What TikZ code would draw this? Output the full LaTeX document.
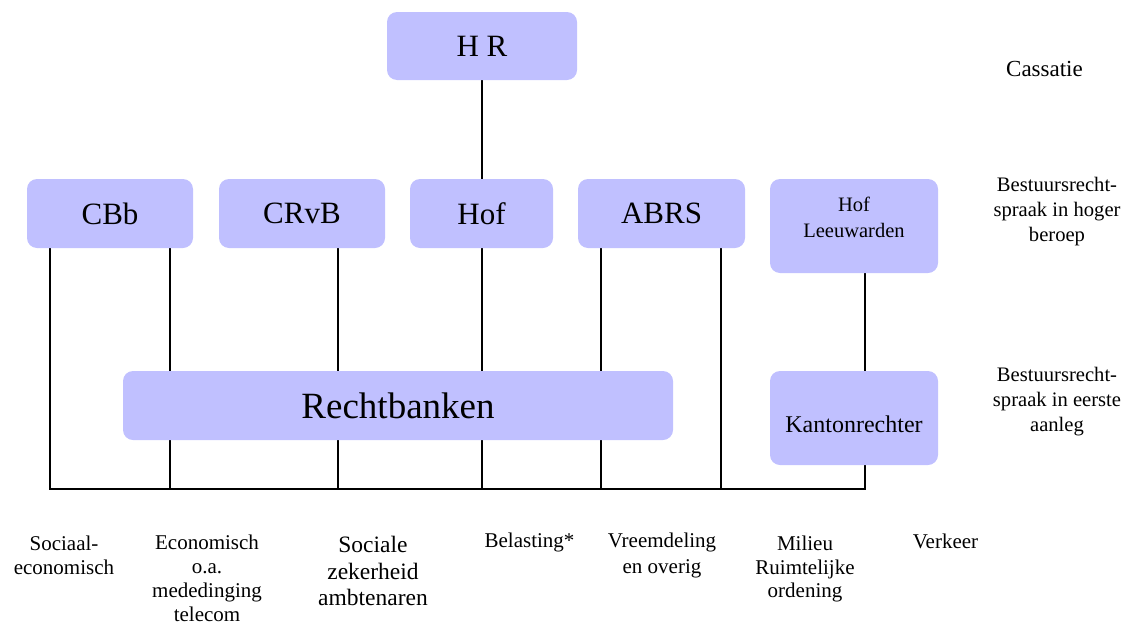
\documentclass[tikz,border=0pt]{standalone}
\usepackage{fontspec}
\setmainfont{Liberation Serif}
\newfontfamily\tnr{Liberation Serif}
\newcommand{\fsz}[2]{\tnr\fontsize{#1}{#2}\selectfont}
\usetikzlibrary{backgrounds}
\definecolor{boxfill}{RGB}{192,192,255}
\begin{document}
\begin{tikzpicture}[x=1pt,y=-1pt,
  box/.style={fill=boxfill, rounded corners=10pt, inner sep=0pt, align=center},
  conn/.style={draw=black, line width=1.3pt},
  lbl/.style={align=center, inner sep=0pt, font=\fsz{21}{24.5}},
  side/.style={align=center, inner sep=0pt, font=\fsz{20.6}{25}},
  big/.style={font=\fsz{31}{34}}]
\useasboundingbox (0,0) rectangle (1129,624);
% boxes
\node[box, big, minimum width=190pt, minimum height=68pt] (hr) at (482,46) {H R};
\node[box, big, minimum width=166pt, minimum height=69pt] (cbb) at (110,213.5) {CBb};
\node[box, big, minimum width=166pt, minimum height=69pt] (crvb) at (302,213.5) {CRvB};
\node[box, big, minimum width=143pt, minimum height=69pt] (hof) at (481.5,213.5) {Hof};
\node[box, big, minimum width=167pt, minimum height=69pt] (abrs) at (661.5,213.5) {ABRS};
\node[box, minimum width=168pt, minimum height=94pt] (hl) at (854,226) {};
\node[side, font=\fsz{20.5}{25.5}] (hlt) at (854,217.5) {Hof\\Leeuwarden};
\node[box, minimum width=550pt, minimum height=69pt, font=\fsz{37}{40}] (rb) at (398,405.5) {Rechtbanken};
\node[box, minimum width=168pt, minimum height=94pt, font=\fsz{24}{27}, text height=34pt, text depth=5pt] (kr) at (854,418) {Kantonrechter};
% bottom line coordinates
\coordinate (b1) at (50,489);
\coordinate (b2) at (170,489);
\coordinate (b3) at (338,489);
\coordinate (b4) at (482,489);
\coordinate (b5) at (601,489);
\coordinate (b6) at (721,489);
\coordinate (b7) at (865,489);
\begin{scope}[on background layer]
\draw[conn] (hr.south) -- (hr.south |- hof.north);
\draw[conn] (cbb.south -| b1) -- (b1);
\draw[conn] (cbb.south -| b2) -- (b2);
\draw[conn] (crvb.south -| b3) -- (b3);
\draw[conn] (hof.south -| b4) -- (b4);
\draw[conn] (abrs.south -| b5) -- (b5);
\draw[conn] (abrs.south -| b6) -- (b6);
\draw[conn] (hl.south -| b7) -- (kr.north -| b7);
\draw[conn] (kr.south -| b7) -- (b7);
\draw[conn, line cap=rect] (b1) -- (b7);
\end{scope}
% right labels
\node[side, font=\fsz{23}{26}] (cas) at (1044.5,69) {Cassatie};
\node[side] (hoger) at (1057,212) {Bestuursrecht-\\spraak in hoger\\beroep};
\node[side] (eerste) at (1057,402) {Bestuursrecht-\\spraak in eerste\\aanleg};
% bottom labels
\node[lbl, font=\fsz{21}{24}] (l1) at (64,555) {Sociaal-\\economisch};
\node[lbl, font=\fsz{21}{24}] (l2) at (207,578) {Economisch\\o.a.\\mededinging\\telecom};
\node[lbl, font=\fsz{23.5}{26.5}] (l3) at (373,571) {Sociale\\zekerheid\\ambtenaren};
\node[lbl] (l4) at (529.5,542) {Belasting*};
\node[lbl, font=\fsz{21}{26}] (l5) at (662,555.5) {Vreemdeling\\en overig};
\node[lbl, font=\fsz{21}{23.5}] (l6) at (805,569) {Milieu\\Ruimtelijke\\ordening};
\node[lbl] (l7) at (945.5,541) {Verkeer};
\end{tikzpicture}
\end{document}
